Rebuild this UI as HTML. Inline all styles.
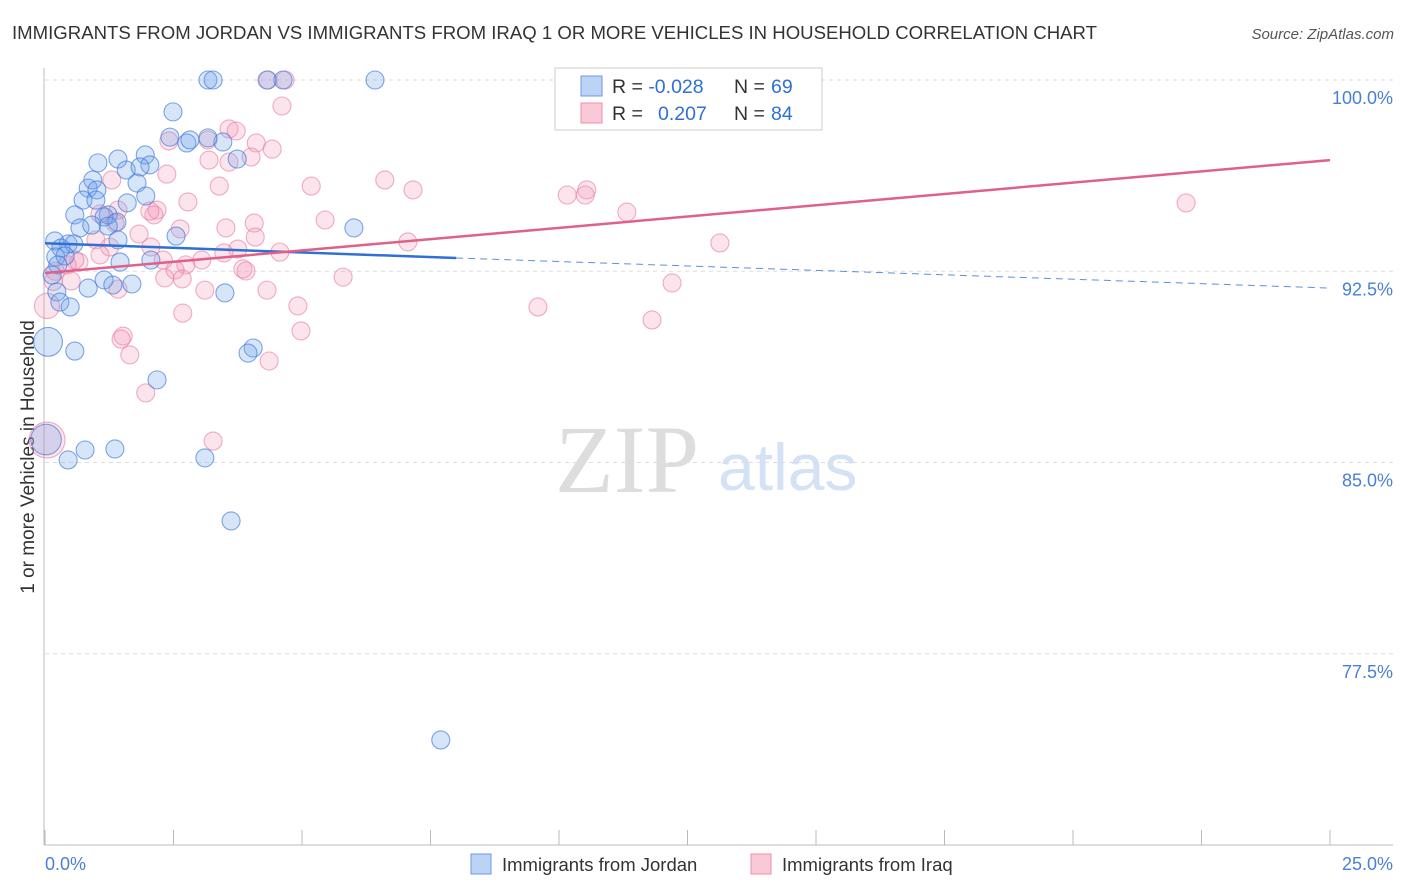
<!DOCTYPE html>
<html><head><meta charset="utf-8"><style>
body{margin:0;background:#fff;font-family:"Liberation Sans",sans-serif}
svg{display:block}
</style></head><body>
<svg id="chart" width="1406" height="892" xmlns="http://www.w3.org/2000/svg">
<text x="12" y="39" font-size="18" fill="#333" textLength="1085" lengthAdjust="spacingAndGlyphs">IMMIGRANTS FROM JORDAN VS IMMIGRANTS FROM IRAQ 1 OR MORE VEHICLES IN HOUSEHOLD CORRELATION CHART</text>
<text x="1394" y="39" font-size="15" fill="#555" font-style="italic" text-anchor="end">Source: ZipAtlas.com</text>
<text transform="translate(34,457) rotate(-90)" font-size="19" fill="#333" text-anchor="middle">1 or more Vehicles in Household</text>
<text x="555" y="492" font-size="96" fill="#ddd" font-family="Liberation Serif,serif">ZIP</text>
<text x="718" y="490" font-size="66" fill="#d4e2f6">atlas</text>
<g id="grid"></g><g id="axes"></g><g id="pts"></g><g id="lines"></g>
<g>
<rect x="555" y="68" width="267" height="62" fill="#fff" stroke="#ccc"/>
<rect x="581" y="76" width="21" height="20" fill="#bcd3f5" stroke="#6b9ae6"/>
<rect x="581" y="103" width="21" height="20" fill="#f9c9d7" stroke="#ec8fab"/>
<text x="612" y="93" font-size="19.5" fill="#333">R = <tspan fill="#2f6fd6">-0.028</tspan><tspan x="734">N = </tspan><tspan fill="#2f6fd6" x="771">69</tspan></text>
<text x="612" y="120" font-size="19.5" fill="#333">R = <tspan fill="#2f6fd6" x="658">0.207</tspan><tspan x="734">N = </tspan><tspan fill="#2f6fd6" x="771">84</tspan></text>
</g>
<g>
<rect x="471" y="854" width="20" height="20" fill="#bcd3f5" stroke="#6b9ae6"/>
<text x="502" y="871" font-size="18.5" fill="#333">Immigrants from Jordan</text>
<rect x="751" y="854" width="20" height="20" fill="#f9c9d7" stroke="#ec8fab"/>
<text x="782" y="871" font-size="18.5" fill="#333">Immigrants from Iraq</text>
</g>
</svg>
<script>
const yTicks=[100,92.5,85,77.5];
const yTickLabels=["100.0%","92.5%","85.0%","77.5%"];
const xTickLabels=["0.0%","25.0%"];
const jordanX=[3.17,3.27,4.32,4.63,6.42,2.49,2.43,2.76,2.82,3.46,3.17,3.74,1.03,1.42,1.95,2.04,1.58,1.85,0.93,1.79,0.84,1.01,1.96,0.74,0.99,1.60,0.58,1.23,1.15,0.68,0.91,1.40,1.23,6.01,2.55,0.19,1.42,0.45,0.31,0.56,0.21,0.39,2.06,1.46,0.25,0.14,1.15,1.69,1.32,0.84,0.23,3.50,0.29,0.49,0.06,0.58,4.05,3.95,2.18,0.78,0.45,1.36,3.11,3.62,7.70,0.02];
const jordanY=[100,100,100,100,100,98.75,97.76,97.53,97.65,97.57,97.73,96.9,96.75,96.9,97.06,96.67,96.47,96.59,96.08,95.96,95.76,95.69,95.45,95.29,95.29,95.18,94.71,94.71,94.63,94.2,94.31,94.43,94.27,94.2,93.88,93.69,93.73,93.57,93.41,93.57,93.06,93.1,92.94,92.86,92.75,92.35,92.16,92.0,91.96,91.84,91.69,91.65,91.29,91.1,89.73,89.37,89.49,89.29,88.24,85.49,85.1,85.53,85.18,82.71,74.12,85.9];
const jordanSize=[1,1,1,1,1,1,1,1,1,1,1,1,1,1,1,1,1,1,1,1,1,1,1,1,1,1,1,1,1,1,1,1,1,1,1,1,1,1,1,1,1,1,1,1,1,1,1,1,1,1,1,1,1,1,1.6,1,1,1,1,1,1,1,1,1,1,1.7];
const iraqX=[4.67,4.34,14.09,4.61,3.17,3.58,3.72,2.41,4.11,4.42,4.01,3.19,3.58,2.37,1.30,3.39,5.18,6.61,7.16,10.16,10.54,10.51,5.45,11.32,22.2,2.78,2.18,2.12,1.42,2.04,1.07,1.36,4.07,3.52,2.63,4.09,0.99,1.83,2.06,7.06,13.13,1.26,3.75,3.48,4.57,3.05,2.30,1.07,0.66,0.43,0.58,2.74,2.53,3.85,3.91,5.80,2.33,2.67,0.51,1.42,3.11,4.32,12.2,4.92,9.59,2.68,11.81,0.04,4.98,1.52,1.48,1.65,4.36,1.96,3.27,0.04,0.2,0.16];
const iraqY=[100,100,100,98.98,97.65,98.08,98.0,97.61,97.53,97.29,96.98,96.86,96.78,96.31,96.08,95.84,95.84,96.08,95.69,95.49,95.69,95.49,94.51,94.82,95.18,95.22,94.9,94.71,94.9,94.86,94.75,94.39,94.39,94.2,94.16,93.84,93.73,93.96,93.45,93.65,93.61,93.45,93.37,93.22,93.25,92.94,92.94,93.14,92.86,92.75,92.94,92.75,92.55,92.59,92.51,92.27,92.24,92.2,92.12,91.8,91.76,91.76,92.04,91.14,91.1,90.86,90.59,91.14,90.16,89.96,89.84,89.22,88.98,87.73,85.84,85.88,92.5,92.1];
const iraqSize=[1,1,1,1,1,1,1,1,1,1,1,1,1,1,1,1,1,1,1,1,1,1,1,1,1,1,1,1,1,1,1,1,1,1,1,1,1,1,1,1,1,1,1,1,1,1,1,1,1,1,1,1,1,1,1,1,1,1,1,1,1,1,1,1,1,1,1,1.4,1,1,1,1,1,1,1,2.0,1,1];
const jordanTrendX=[0,8.0,25];
const jordanTrendY=[93.6,93.02,91.84];
const iraqTrendX=[0,25];
const iraqTrendY=[92.43,96.86];
const X0=45,X1=1330,XMAX=25;
const xs=v=>X0+v/XMAX*(X1-X0);
const ys=v=>80+(100-v)*25.5;
const NS="http://www.w3.org/2000/svg";
function mk(tag,attrs,parent){const e=document.createElementNS(NS,tag);for(const k in attrs)e.setAttribute(k,attrs[k]);parent.appendChild(e);return e;}
const grid=document.getElementById('grid'),axes=document.getElementById('axes'),pts=document.getElementById('pts'),lines=document.getElementById('lines');
yTicks.forEach((t,i)=>{
 const g=mk('line',{x1:X0,x2:1393,y1:ys(t),y2:ys(t),stroke:'#ddd','stroke-dasharray':'4,4'},grid);
 
 
 const l=mk('text',{x:1393,y:ys(t)+24,'font-size':18,fill:'#4a7fd6','text-anchor':'end'},axes);
 l.textContent=yTickLabels[i];
 
 
});
const ya=mk('line',{x1:44,x2:44,y1:68,y2:845,stroke:'#bbb'},axes);


const xa=mk('line',{x1:44,x2:1393,y1:845,y2:845,stroke:'#bbb'},axes);


for(let i=0;i<=10;i++){
 const tk=mk('line',{x1:xs(i*2.5),x2:xs(i*2.5),y1:830,y2:845,stroke:'#bbb'},axes);
 
 
}
const xl0=mk('text',{x:45,y:870,'font-size':18,fill:'#4a7fd6'},axes);
xl0.textContent=xTickLabels[0];


const xl1=mk('text',{x:1393,y:870,'font-size':18,fill:'#4a7fd6','text-anchor':'end'},axes);
xl1.textContent=xTickLabels[1];


iraqX.forEach((v,i)=>{
 const c=mk('circle',{cx:xs(v),cy:ys(iraqY[i]),r:9*iraqSize[i],fill:'rgba(242,150,180,0.26)',stroke:'rgba(232,120,155,0.6)','stroke-width':1.1},pts);
 
 
});
jordanX.forEach((v,i)=>{
 const c=mk('circle',{cx:xs(v),cy:ys(jordanY[i]),r:9*jordanSize[i],fill:'rgba(110,160,235,0.28)',stroke:'rgba(60,120,220,0.65)','stroke-width':1.1},pts);
 
 
});
const jl=mk('line',{x1:xs(jordanTrendX[0]),y1:ys(jordanTrendY[0]),x2:xs(jordanTrendX[1]),y2:ys(jordanTrendY[1]),stroke:'#2f6fd6','stroke-width':2.5},lines);


const jd=mk('line',{x1:xs(jordanTrendX[1]),y1:ys(jordanTrendY[1]),x2:xs(jordanTrendX[2]),y2:ys(jordanTrendY[2]),stroke:'#5b8fe0','stroke-width':1,'stroke-dasharray':'7,5'},lines);


const il=mk('line',{x1:xs(iraqTrendX[0]),y1:ys(iraqTrendY[0]),x2:xs(iraqTrendX[1]),y2:ys(iraqTrendY[1]),stroke:'#e0608a','stroke-width':2.5},lines);


</script>
</body></html>
